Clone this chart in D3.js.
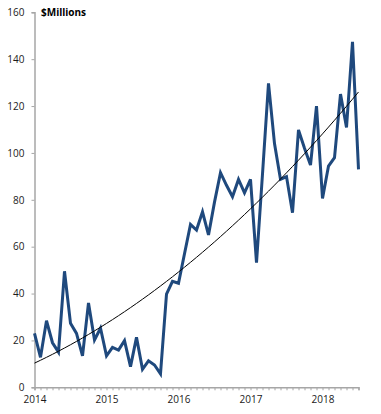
<!DOCTYPE html>
<html>
<head>
<meta charset="utf-8">
<script src="https://cdn.jsdelivr.net/npm/d3@7"></script>
<style>
  html, body { margin: 0; padding: 0; background: #fff; }
  svg { display: block; }
  text { font-family: "Open Sans", "Noto Sans", sans-serif; }
</style>
</head>
<body>
<svg id="chart" width="381" height="414"></svg>
<script>
// Years labelled on the x axis (first month of each year)
const years = ["2014", "2015", "2016", "2017", "2018"];
// Monthly values, Jan 2014 .. Jul 2018 ($ millions)
const values = [23, 12.8, 28.4, 19, 15, 49.5, 27.3, 23, 13.4, 36, 20.2, 25.2,
                13.4, 17, 15.9, 19.9, 8.8, 21.3, 7.7, 11.3, 9.5, 5.7, 39.8, 45.2,
                44.4, 57, 69.5, 67.1, 74.9, 65, 79, 91.6, 86.2, 81.3, 88.7, 83,
                88.7, 53.2, 91, 129.7, 104, 88.7, 89.9, 74.5, 109.8, 102, 94.8, 120,
                80.6, 94.4, 98, 125.1, 110.9, 147.4, 93];
const yTicks = [0, 20, 40, 60, 80, 100, 120, 140, 160];
const unitLabel = "$Millions";

const svg = d3.select("#chart");
const x = d3.scaleLinear().domain([0, values.length - 1]).range([34.5, 358.5]);
const y = d3.scaleLinear().domain([0, 160]).range([387.3, 12.3]);

// quadratic least-squares trend (polynomial order 2)
function polyFit(ys) {
  const n = ys.length;
  let S = [0,0,0,0,0], T = [0,0,0];
  ys.forEach((v, i) => {
    for (let k = 0; k <= 4; k++) S[k] += Math.pow(i, k);
    for (let k = 0; k <= 2; k++) T[k] += v * Math.pow(i, k);
  });
  const A = [[S[0], S[1], S[2], T[0]], [S[1], S[2], S[3], T[1]], [S[2], S[3], S[4], T[2]]];
  for (let c = 0; c < 3; c++) {
    for (let r = c + 1; r < 3; r++) {
      const f = A[r][c] / A[c][c];
      for (let k = c; k < 4; k++) A[r][k] -= f * A[c][k];
    }
  }
  const coef = [0,0,0];
  for (let r = 2; r >= 0; r--) {
    let s = A[r][3];
    for (let k = r + 1; k < 3; k++) s -= A[r][k] * coef[k];
    coef[r] = s / A[r][r];
  }
  return coef;
}
const coef = polyFit(values);
const trend = values.map((v, i) => coef[0] + coef[1] * i + coef[2] * i * i);

// Axes
const yAxis = d3.axisLeft(y).tickValues(yTicks).tickSize(3).tickPadding(7);
const gy = svg.append("g").attr("transform", `translate(${x(0)},0)`).call(yAxis);
const xAxis = d3.axisBottom(x).tickValues(d3.range(values.length)).tickSize(3).tickPadding(6)
  .tickFormat(i => (i % 12 === 0 ? years[i / 12] : ""));
const gx = svg.append("g").attr("transform", `translate(0,${y(0)})`).call(xAxis);

[gx, gy].forEach(g => {
  g.select(".domain").attr("stroke", "#a6a6a6").attr("stroke-width", 1.5);
  g.selectAll(".tick line").attr("stroke", "#a6a6a6").attr("stroke-width", 1);
  g.selectAll(".tick text").attr("fill", "#1a1a1a").style("font-size", "10px");
});

// Data line
svg.append("path")
  .datum(values)
  .attr("fill", "none")
  .attr("stroke", "#1f497d")
  .attr("stroke-width", 3)
  .attr("stroke-linejoin", "miter")
  .attr("d", d3.line().x((d, i) => x(i)).y(d => y(d)));

// Trend line
svg.append("path")
  .datum(trend)
  .attr("fill", "none")
  .attr("stroke", "#000")
  .attr("stroke-width", 1)
  .attr("d", d3.line().x((d, i) => x(i)).y(d => y(d)).curve(d3.curveMonotoneX));

// Unit label
svg.append("text")
  .attr("x", 41).attr("y", 15.5)
  .style("font-size", "10px").style("font-weight", "bold")
  .attr("fill", "#000")
  .text(unitLabel);
</script>
</body>
</html>
